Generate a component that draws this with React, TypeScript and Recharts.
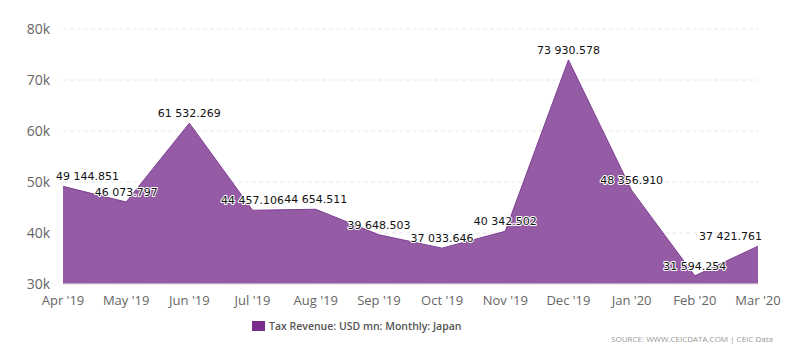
import { Area, AreaChart, CartesianGrid, LabelList, XAxis, YAxis } from "recharts"

const months = ["Apr '19", "May '19", "Jun '19", "Jul '19", "Aug '19", "Sep '19", "Oct '19", "Nov '19", "Dec '19", "Jan '20", "Feb '20", "Mar '20"]
const taxRevenue = [49144.851, 46073.797, 61532.269, 44457.106, 44654.511, 39648.503, 37033.646, 40342.502, 73930.578, 48356.91, 31594.254, 37421.761]
const yTicks = [30000, 40000, 50000, 60000, 70000, 80000]

const data = months.map((m, i) => ({ month: m, value: taxRevenue[i] }))

const fmt = (v: number) => {
  const [int, dec] = v.toFixed(3).split(".")
  return int.replace(/\B(?=(\d{3})+(?!\d))/g, " ") + "." + dec
}

const ValueLabel = (props: any) => {
  const { x, y, value } = props
  const text = fmt(value)
  const w = text.length * 6.3
  let cx = x
  if (cx - w / 2 < 48) cx = 48 + w / 2
  if (cx + w / 2 > 754) cx = 754 - w / 2
  return (
    <text x={cx} y={y - 6} textAnchor="middle" fontSize={11} fontFamily="DejaVu Sans" fill="#111"
      stroke="#fff" strokeWidth={2} paintOrder="stroke" strokeLinejoin="round">
      {text}
    </text>
  )
}

export default function App() {
  return (
    <div style={{ position: "relative", width: 784, height: 338, fontFamily: "'Open Sans', sans-serif" }}>
      <AreaChart width={784} height={338} data={data} margin={{ top: 21, right: 34, left: 0, bottom: 32 }}>
        <CartesianGrid vertical={false} stroke="#e6e6e6" strokeDasharray="4 3" />
        <XAxis dataKey="month" height={30} tickLine={false} axisLine={{ stroke: "#e6e6e6" }}
          tick={{ fill: "#666", fontSize: 13 }} interval={0} tickMargin={6} />
        <YAxis width={55} domain={[30000, 80000]} ticks={yTicks} axisLine={false} tickLine={false}
          tick={{ fill: "#666", fontSize: 14 }} tickFormatter={(v: number) => `${v / 1000}k`} tickMargin={7} />
        <Area type="linear" dataKey="value" stroke="#7d3f92" strokeWidth={1} fill="#955ba5" fillOpacity={1}
          isAnimationActive={false}>
          <LabelList dataKey="value" content={ValueLabel} />
        </Area>
      </AreaChart>
      <div style={{ position: "absolute", left: 244, top: 311, display: "flex", alignItems: "center", fontSize: 10.5, fontWeight: 600, color: "#555" }}>
        <span style={{ display: "inline-block", width: 13, height: 10, background: "#7b2d8e", marginRight: 4 }} />
        Tax Revenue: USD mn: Monthly: Japan
      </div>
      <div style={{ position: "absolute", right: 19, top: 325, fontSize: 8, color: "#999" }}>
        SOURCE: WWW.CEICDATA.COM | CEIC Data
      </div>
    </div>
  )
}
